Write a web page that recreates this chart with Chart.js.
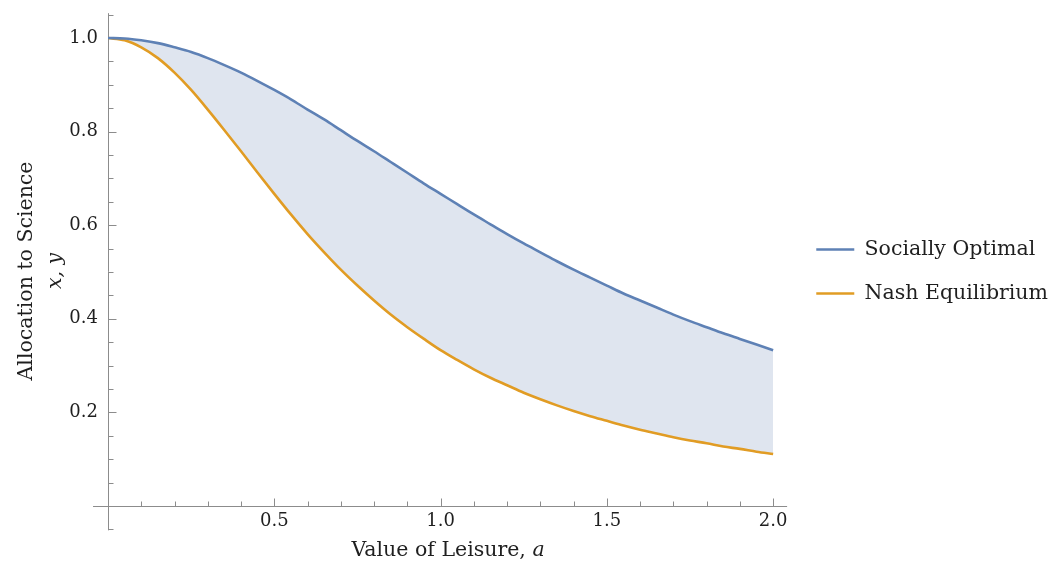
<!DOCTYPE html>
<html>
<head>
<meta charset="utf-8">
<script src="https://cdn.jsdelivr.net/npm/chart.js@4"></script>
<style>
  html, body { margin: 0; padding: 0; background: #fff; }
  #wrap { width: 1048px; height: 564px; }
</style>
</head>
<body>
<div id="wrap"><canvas id="leisure"></canvas></div>
<script>
// value of leisure a, every 0.05
const leisure = [0, 0.05, 0.1, 0.15, 0.2, 0.25, 0.3, 0.35, 0.4, 0.45, 0.5,
                 0.55, 0.6, 0.65, 0.7, 0.75, 0.8, 0.85, 0.9, 0.95, 1.0,
                 1.05, 1.1, 1.15, 1.2, 1.25, 1.3, 1.35, 1.4, 1.45, 1.5,
                 1.55, 1.6, 1.65, 1.7, 1.75, 1.8, 1.85, 1.9, 1.95, 2.0];
const sociallyOptimal = [1.000, 0.999, 0.995, 0.989, 0.980, 0.970, 0.957, 0.942, 0.926, 0.908, 0.889,
                         0.869, 0.847, 0.826, 0.803, 0.780, 0.758, 0.735, 0.712, 0.689, 0.667,
                         0.645, 0.623, 0.602, 0.581, 0.561, 0.542, 0.523, 0.505, 0.488, 0.471,
                         0.454, 0.439, 0.424, 0.409, 0.395, 0.382, 0.369, 0.357, 0.345, 0.333];
const nashEquilibrium = [1.000, 0.995, 0.980, 0.957, 0.926, 0.889, 0.847, 0.803, 0.758, 0.712, 0.667,
                         0.623, 0.581, 0.542, 0.505, 0.471, 0.439, 0.409, 0.382, 0.357, 0.333,
                         0.312, 0.292, 0.274, 0.258, 0.242, 0.228, 0.215, 0.203, 0.192, 0.182,
                         0.172, 0.163, 0.155, 0.147, 0.140, 0.134, 0.127, 0.122, 0.116, 0.111];
const xTicks = [0.5, 1.0, 1.5, 2.0];
const yTicks = [0.2, 0.4, 0.6, 0.8, 1.0];

const FONT = "'DejaVu Serif', serif";
const AXIS = '#8c8c8c';
const INK = '#1f1f1f';
const TITLE_SIZE = 20.5;

Chart.defaults.font.family = FONT;
Chart.defaults.font.size = 18;
Chart.defaults.color = INK;

const points = ys => leisure.map((a, i) => ({x: a, y: ys[i]}));

// mathematica style axes crossing at the origin, ticks pointing inward
const axesPlugin = {
    id: 'axes',
    beforeDatasetsDraw(chart){
        const {ctx, scales: {x, y}} = chart;
        const x0 = Math.round(x.getPixelForValue(0)) + 0.5;
        const y0 = Math.round(y.getPixelForValue(0)) + 0.5;
        ctx.save();
        ctx.strokeStyle = AXIS;
        ctx.lineWidth = 1;
        ctx.beginPath();
        ctx.moveTo(x.getPixelForValue(-0.045), y0);
        ctx.lineTo(x.getPixelForValue(2.042), y0);
        ctx.moveTo(x0, y.getPixelForValue(-0.052));
        ctx.lineTo(x0, y.getPixelForValue(1.053));
        for(let i = 1; i <= 20; i++){
            const px = Math.round(x.getPixelForValue(i / 10)) + 0.5;
            ctx.moveTo(px, y0);
            ctx.lineTo(px, y0 - (i % 5 === 0 ? 8 : 5));
        }
        for(let i = -1; i <= 21; i++){
            if(i === 0) continue;
            const py = Math.round(y.getPixelForValue(i / 20)) + 0.5;
            ctx.moveTo(x0, py);
            ctx.lineTo(x0 + (i % 4 === 0 ? 8 : 5), py);
        }
        ctx.stroke();
        ctx.restore();
    },
    afterDraw(chart){
        const {ctx} = chart;
        const plain = `${TITLE_SIZE}px ${FONT}`;
        const ital = `italic ${TITLE_SIZE}px ${FONT}`;
        ctx.save();
        ctx.fillStyle = INK;
        ctx.textBaseline = 'alphabetic';
        // x title
        const t1 = 'Value of Leisure, ';
        ctx.font = ital;
        const wa = ctx.measureText('a').width;
        ctx.font = plain;
        const w1 = ctx.measureText(t1).width;
        const sx = 448 - (w1 + wa) / 2;
        ctx.fillText(t1, sx, 556);
        ctx.font = ital;
        ctx.fillText('a', sx + w1, 556);
        // y title, two lines
        ctx.translate(0, 271);
        ctx.rotate(-Math.PI / 2);
        ctx.textAlign = 'center';
        ctx.font = plain;
        ctx.fillText('Allocation to Science', 0, 32);
        ctx.font = ital;
        ctx.fillText('x, y', 0, 61);
        ctx.restore();
    }
};

new Chart(document.querySelector('#leisure'), {
    type: 'line',
    data: {
        datasets: [{
            label: 'Socially Optimal',
            data: points(sociallyOptimal),
            borderColor: '#5e81b5',
            backgroundColor: '#dfe5ef',
            borderWidth: 2.6,
            fill: '+1',
            pointRadius: 0,
            pointStyle: 'line',
            cubicInterpolationMode: 'monotone'
        }, {
            label: 'Nash Equilibrium',
            data: points(nashEquilibrium),
            borderColor: '#e19c24',
            backgroundColor: '#e19c24',
            borderWidth: 2.6,
            fill: false,
            pointRadius: 0,
            pointStyle: 'line',
            cubicInterpolationMode: 'monotone'
        }]
    },
    options: {
        responsive: true,
        maintainAspectRatio: false,
        animation: false,
        layout: {
            padding: {left: 48, top: 13, right: -10, bottom: 34}
        },
        scales: {
            x: {
                type: 'linear',
                min: 0,
                max: 2.059,
                afterBuildTicks: s => { s.ticks = xTicks.map(v => ({value: v})); },
                afterFit: s => { s.height = 24; s.paddingLeft = 0; s.paddingRight = 0; },
                grid: {display: false, drawTicks: false},
                border: {display: false},
                ticks: {padding: 5, color: INK, callback: v => v.toFixed(1), maxRotation: 0}
            },
            y: {
                type: 'linear',
                min: 0,
                max: 1.0534,
                afterBuildTicks: s => { s.ticks = yTicks.map(v => ({value: v})); },
                afterFit: s => { s.width = 60; s.paddingTop = 0; s.paddingBottom = 0; },
                grid: {display: false, drawTicks: false},
                border: {display: false},
                ticks: {padding: 10, color: INK, callback: v => v.toFixed(1)}
            }
        },
        plugins: {
            filler: {drawTime: 'beforeDatasetsDraw'},
            legend: {
                position: 'right',
                align: 'center',
                maxWidth: 320,
                labels: {
                    usePointStyle: true,
                    pointStyleWidth: 38,
                    padding: 23.5,
                    color: INK,
                    font: {size: TITLE_SIZE}
                }
            },
            tooltip: {enabled: false}
        }
    },
    plugins: [axesPlugin]
});
</script>
</body>
</html>
